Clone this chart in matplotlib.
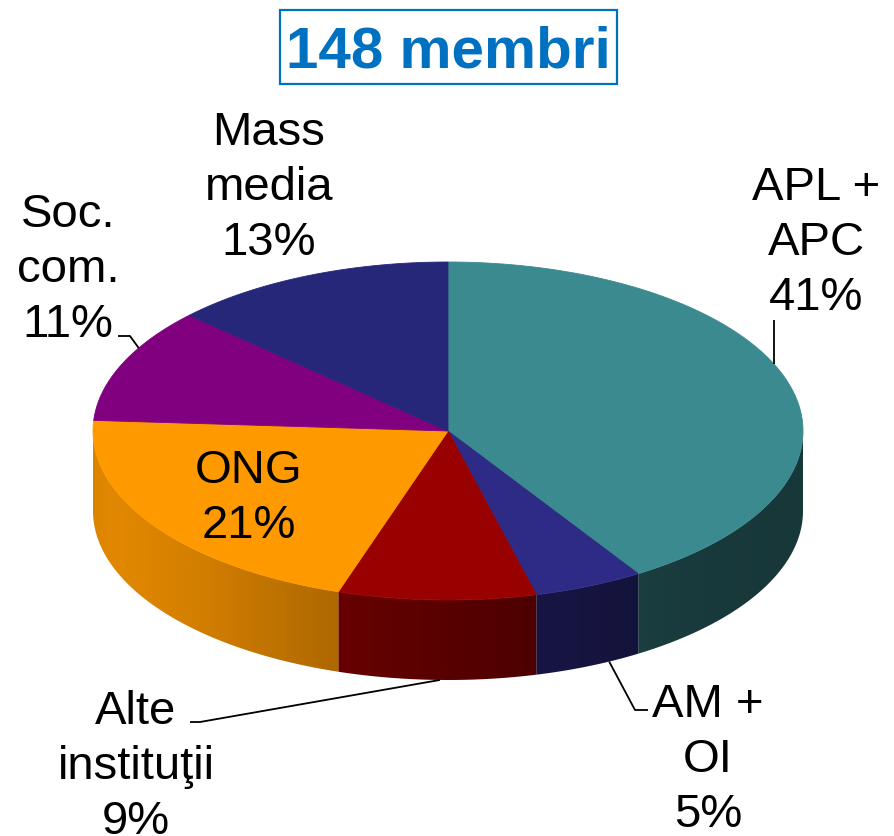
import numpy as np
import matplotlib
matplotlib.use("Agg")
import matplotlib.pyplot as plt
from matplotlib.patches import Polygon, Rectangle
from matplotlib.colors import to_rgb

# ---------------- data ----------------
categories = ["APL +\nAPC", "AM +\nOI", "Alte\ninstituţii", "ONG", "Soc.\ncom.", "Mass\nmedia"]
values = [41, 5, 9, 21, 11, 13]
colors = ["#3B8A8F", "#2E2B86", "#990000", "#FF9900", "#800080", "#27277A"]
title = "148 membri"

# ---------------- layout ----------------
W, H = 894, 836
CX, CY = 448, 431          # centre of the top ellipse (pixels)
RA, RB = 355, 169          # semi axes
DEPTH = 80                 # thickness of the 3-D pie
START = 90                 # degrees, clockwise

# label anchor (x, baseline of the LAST line)
label_pos = [(816, 310), (708, 827), (136, 834), (249, 538), (68, 337), (269, 255)]
leader_tail = [[(None, 320)],
               [(635, 710), (648, 710)],
               [(200, 722), (190, 722)],
               None,
               [(130, 336), (118, 336)],
               None]
leader_nudge = [7, 3.6, 0.5, 0, -6, 0]   # degrees

plt.rcParams['font.family'] = ['Liberation Sans', 'DejaVu Sans']

fig = plt.figure(figsize=(W / 100, H / 100), dpi=100)
ax = fig.add_axes([0, 0, 1, 1])
ax.set_xlim(0, W)
ax.set_ylim(H, 0)
ax.axis('off')


def pt(theta_deg, dz=0.0):
    t = np.radians(theta_deg)
    return CX + RA * np.cos(t), CY - RB * np.sin(t) + dz


def shade(theta_deg):
    c = (1 + np.cos(np.radians(theta_deg - 200))) / 2
    return 0.40 + 0.48 * c ** 2.5


total = float(sum(values))
bounds = [START]
for v in values:
    bounds.append(bounds[-1] - 360.0 * v / total)

# ----- side walls (front half only), shaded with a horizontal gradient -----
for i, col in enumerate(colors):
    t0, t1 = bounds[i], bounds[i + 1]
    ts = np.linspace(t0, t1, max(int(abs(t0 - t1) * 4), 8))
    sn = np.sin(np.radians(ts))
    front = ts[sn < 0]
    if len(front) < 2:
        continue
    lo, hi = front.min(), front.max()
    seg = np.linspace(hi, lo, 200)
    top = [pt(t) for t in seg]
    bot = [pt(t, DEPTH) for t in seg[::-1]]
    poly = Polygon(top + bot, closed=True, facecolor='none', edgecolor='none',
                   transform=ax.transData)
    ax.add_patch(poly)
    xs = np.linspace(min(p[0] for p in top) - 2, max(p[0] for p in top) + 2, 400)
    cosv = np.clip((xs - CX) / RA, -1, 1)
    theta = -np.degrees(np.arccos(cosv))
    base = np.array(to_rgb(col))
    img = np.clip(base[None, :] * shade(theta)[:, None], 0, 1)[None, :, :]
    ys_top = min(p[1] for p in top + bot) - 2
    ys_bot = max(p[1] for p in top + bot) + 2
    im = ax.imshow(img, extent=[xs[0], xs[-1], ys_bot, ys_top], aspect='auto',
                   interpolation='bilinear', zorder=2)
    im.set_clip_path(poly)

ax.set_xlim(0, W)
ax.set_ylim(H, 0)

# ----- top faces -----
for i, col in enumerate(colors):
    t0, t1 = bounds[i], bounds[i + 1]
    ts = np.linspace(t0, t1, max(int(abs(t0 - t1) * 2), 4))
    verts = [(CX, CY)] + [pt(t) for t in ts]
    ax.add_patch(Polygon(verts, closed=True, facecolor=col, edgecolor=col,
                         lw=0.6, zorder=3))

# ----- labels and leaders -----
for i, (cat, v) in enumerate(zip(categories, values)):
    x, y = label_pos[i]
    ax.text(x, y, f"{cat}\n{v}%", ha='center', va='baseline', fontsize=34,
            color='black', linespacing=1.32, zorder=5)
    if leader_tail[i] is not None:
        mid = (bounds[i] + bounds[i + 1]) / 2 + leader_nudge[i]
        dz = DEPTH if np.sin(np.radians(mid)) < 0 else 0
        ex, ey = pt(mid, dz)
        xs, ys = [ex], [ey]
        for (tx, ty) in leader_tail[i]:
            xs.append(ex if tx is None else tx)
            ys.append(ty)
        ax.plot(xs, ys, color='black', lw=1.3, zorder=4, solid_capstyle='butt')

# ----- title -----
ax.add_patch(Rectangle((280, 10), 337, 74, facecolor='white', edgecolor='#0070C0',
                       lw=1.6, zorder=5))
ax.text(448, 68, title, ha='center', va='baseline', fontsize=42,
        fontweight='bold', color='#0070C0', zorder=6)

fig.savefig("out.png", dpi=100)
